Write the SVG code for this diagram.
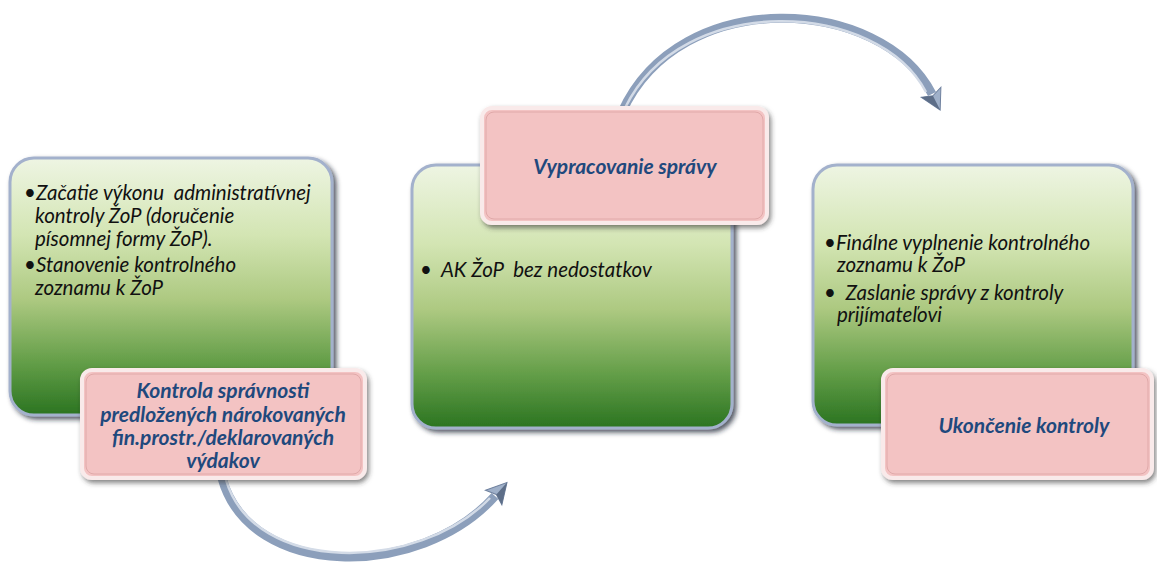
<svg xmlns="http://www.w3.org/2000/svg" width="1157" height="565" viewBox="0 0 1157 565">
  <style>
    .body { font-family: Lato, "Liberation Sans", sans-serif; font-style: italic; font-size: 20.5px; fill: #111111; white-space: pre; }
    .lbl { font-family: Lato, "Liberation Sans", sans-serif; font-style: italic; font-weight: bold; font-size: 21px; fill: #1f497d; text-anchor: middle; white-space: pre; }
    .green { fill: url(#gGreen); stroke: #a3b1cc; stroke-width: 3; filter: url(#shadow); }
    .pink { fill: #f3c3c3; stroke: #f9eaea; stroke-width: 4; filter: url(#shadow2); }
    .pinkedge { fill: none; stroke: #e0a9a9; stroke-width: 1; }
    .arrow { fill: none; stroke: #8c9fbb; stroke-width: 9; }
    .arrowhl { fill: none; stroke: #d3dbe7; stroke-width: 2.5; }
  </style>
  <defs>
    <linearGradient id="gGreen" x1="0" y1="0" x2="0" y2="1">
      <stop offset="0" stop-color="#eef5e3"/>
      <stop offset="0.3" stop-color="#d3e5b3"/>
      <stop offset="0.55" stop-color="#adc981"/>
      <stop offset="0.8" stop-color="#629d47"/>
      <stop offset="1" stop-color="#2b7421"/>
    </linearGradient>
    <filter id="shadow" x="-10%" y="-10%" width="125%" height="125%">
      <feDropShadow dx="3" dy="3" stdDeviation="2.5" flood-color="#1a2233" flood-opacity="0.75"/>
    </filter>
    <filter id="shadow2" x="-10%" y="-10%" width="125%" height="130%">
      <feDropShadow dx="2" dy="3" stdDeviation="2.5" flood-color="#333333" flood-opacity="0.6"/>
    </filter>
    <marker id="head" markerUnits="userSpaceOnUse" markerWidth="30" markerHeight="30" viewBox="-4 -15 30 30" refX="2" refY="0" orient="auto">
      <path d="M0,-11 L20,0 L0,11 L4,0 Z" fill="#9fb0c9" stroke="#6f819e" stroke-width="1"/>
      <path d="M4,0 L20,0 L0,11 Z" fill="#5d6e88"/>
    </marker>
  </defs>

  <g id="connectors">
    <path class="arrow" d="M 222 478 C 250 580, 420 580, 495 496" marker-end="url(#head)"/>
    <path class="arrowhl" d="M 226 480 C 254 575, 418 573, 490 498"/>
    <path class="arrow" d="M 622 112 C 680 -16, 882 -4, 932 94" marker-end="url(#head)"/>
    <path class="arrowhl" d="M 625 108 C 682 -10, 878 0, 926 92"/>
  </g>

  <g id="step1">
    <rect class="green" x="10" y="158" width="322" height="257" rx="24"/>
    <text class="body" x="24" y="200">•Začatie výkonu  administratívnej</text>
    <text class="body" x="35" y="223">kontroly ŽoP (doručenie</text>
    <text class="body" x="35" y="246">písomnej formy ŽoP).</text>
    <text class="body" x="24" y="272">•Stanovenie kontrolného</text>
    <text class="body" x="35" y="295">zoznamu k ŽoP</text>
  </g>
  <g id="label1">
    <rect class="pink" x="82" y="370" width="283" height="108" rx="10"/>
    <rect class="pinkedge" x="86" y="374" width="275" height="100" rx="8"/>
    <text class="lbl" x="223" y="398">Kontrola správnosti</text>
    <text class="lbl" x="223" y="422">predložených nárokovaných</text>
    <text class="lbl" x="223" y="445">fin.prostr./deklarovaných</text>
    <text class="lbl" x="223" y="468">výdakov</text>
  </g>

  <g id="step2">
    <rect class="green" x="412" y="165" width="320" height="263" rx="24"/>
    <text class="body" x="420" y="277">•  AK ŽoP  bez nedostatkov</text>
  </g>
  <g id="label2">
    <rect class="pink" x="482" y="108" width="285" height="115" rx="10"/>
    <rect class="pinkedge" x="486" y="112" width="277" height="107" rx="8"/>
    <text class="lbl" x="625" y="174">Vypracovanie správy</text>
  </g>

  <g id="step3">
    <rect class="green" x="813" y="165" width="320" height="260" rx="24"/>
    <text class="body" x="824" y="250">•Finálne vyplnenie kontrolného</text>
    <text class="body" x="837" y="272">zoznamu k ŽoP</text>
    <text class="body" x="824" y="300">•  Zaslanie správy z kontroly</text>
    <text class="body" x="837" y="322">prijímateľovi</text>
  </g>
  <g id="label3">
    <rect class="pink" x="883" y="370" width="269" height="108" rx="10"/>
    <rect class="pinkedge" x="887" y="374" width="261" height="100" rx="8"/>
    <text class="lbl" x="1024" y="433">Ukončenie kontroly</text>
  </g>
</svg>
